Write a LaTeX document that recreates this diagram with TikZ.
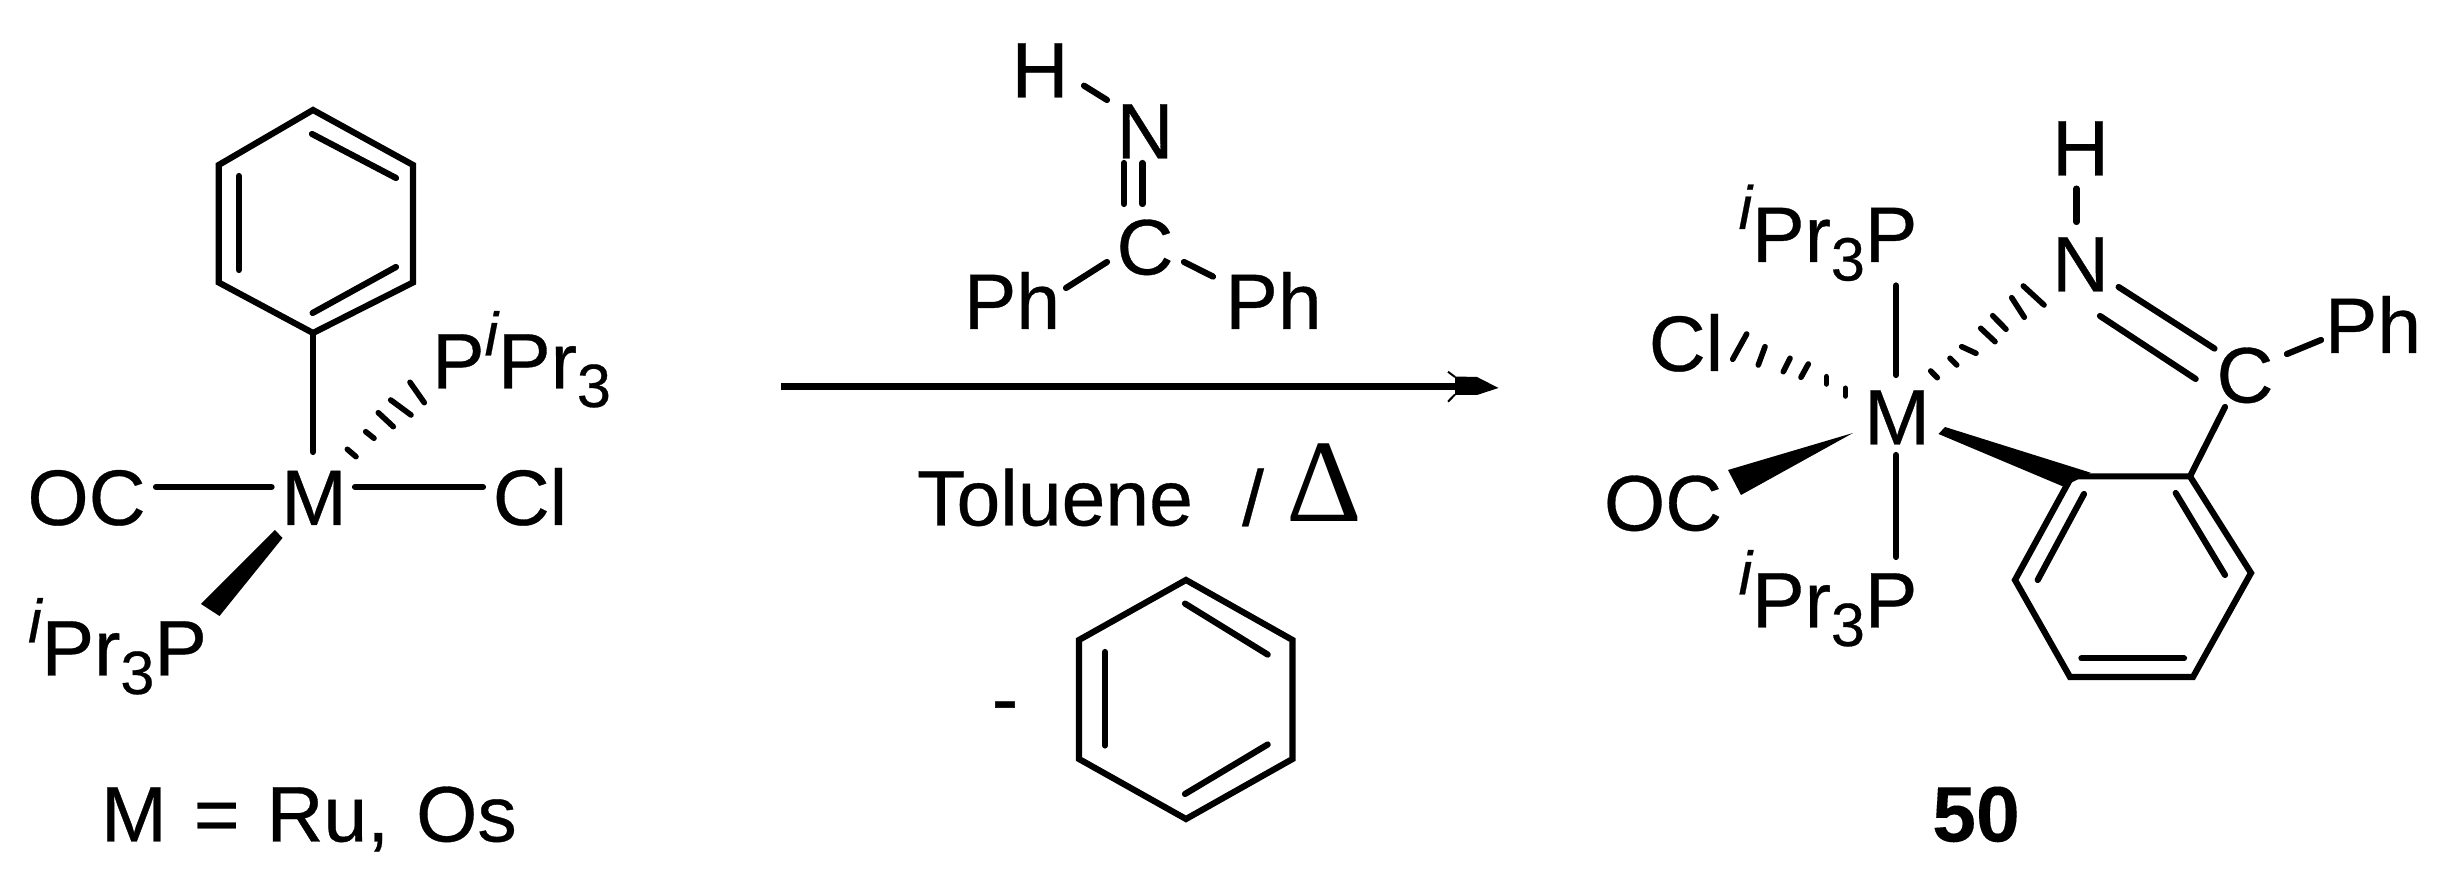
\documentclass[tikz,border=0pt]{standalone}
\usepackage{fontspec}
\setmainfont[FakeBold=0.4,BoldFeatures={FakeBold=0.1}]{Liberation Sans}
\newfontfamily\deltafont{Liberation Serif}
\usepackage{tikz}
\usetikzlibrary{arrows.meta, calc}
\newcommand{\supi}{\raisebox{.42em}{\fontsize{17.4}{20}\selectfont\itshape i}}
\newcommand{\subthree}{\raisebox{-.235em}{\fontsize{17.4}{20}\selectfont 3}}

\begin{document}
\begin{tikzpicture}[
    atom/.style={inner sep=0pt, font=\fontsize{22.4}{26}\selectfont, text height=.55cm, text depth=0pt},
    bond/.style={line width=.062cm, line cap=round, line join=miter},
    hash/.style={line width=.056cm, line cap=round},
    wedge/.style={fill=black, draw=none}
]
\useasboundingbox (0,0) rectangle (24.41,-8.73);

% Starting complex: labels
\node[atom] (mleft) at (3.14,-4.975) {M};
\node[atom] (ocleft) at (0.865,-4.975) {OC};
\node[atom] (clleft) at (5.30,-4.975) {Cl};
\node[atom] (pright) at (5.215,-3.61) {P\supi Pr\subthree};
\node[atom] (pleft) at (1.175,-6.48) {\supi Pr\subthree P};
\node[atom] (metals) at (3.09,-8.14) {M\hspace{.27cm}=\hspace{.27cm}Ru,\hspace{.27cm}Os};

% Starting complex: phenyl ring
\coordinate (pha) at (3.13,-1.10);
\coordinate (phb) at (4.13,-1.65);
\coordinate (phc) at (4.13,-2.825);
\coordinate (phd) at (3.13,-3.33);
\coordinate (phe) at (2.187,-2.825);
\coordinate (phf) at (2.187,-1.65);
\draw[bond] (pha) -- (phb) -- (phc) -- (phd) -- (phe) -- (phf) -- cycle;
\draw[bond] (3.12,-1.34) -- (3.96,-1.78);
\draw[bond] (3.96,-2.67) -- (3.126,-3.13);
\draw[bond] (2.388,-1.76) -- (2.388,-2.70);

% Starting complex: bonds
\coordinate (mtop) at (3.13,-4.52);
\coordinate (oce) at (1.56,-4.87);
\coordinate (mw) at (2.716,-4.87);
\coordinate (me) at (3.55,-4.87);
\coordinate (clw) at (4.83,-4.87);
\draw[bond] (phd) -- (mtop);
\draw[bond] (oce) -- (mw);
\draw[bond] (me) -- (clw);
\foreach \xa/\ya/\xb/\yb in {3.473/4.493/3.56/4.567, 3.657/4.317/3.74/4.383, 3.783/4.127/3.933/4.267, 3.907/4.00/4.11/4.15, 4.10/3.823/4.243/4.027}
    \draw[hash] (\xa,-\ya) -- (\xb,-\yb);
\fill[wedge] (2.75,-5.30) -- (2.825,-5.38) -- (2.195,-6.16) -- (2.01,-6.04) -- cycle;

% Imine over the arrow
\node[atom] (himine) at (10.40,-0.70) {H};
\node[atom] (nimine) at (11.45,-1.31) {N};
\node[atom] (cimine) at (11.45,-2.47) {C};
\node[atom] (phlimine) at (10.12,-3.015) {Ph};
\node[atom] (phrimine) at (12.735,-3.015) {Ph};
\coordinate (hne) at (10.84,-0.857);
\coordinate (nhw) at (11.07,-1.00);
\coordinate (cw) at (11.07,-2.62);
\coordinate (phle) at (10.66,-2.88);
\coordinate (ce) at (11.84,-2.62);
\coordinate (phrw) at (12.13,-2.766);
\draw[bond] (hne) -- (nhw);
\draw[bond] (11.24,-1.63) -- (11.24,-2.04);
\draw[bond] (11.424,-1.63) -- (11.424,-2.04);
\draw[bond] (cw) -- (phle);
\draw[bond] (ce) -- (phrw);

% Reaction arrow
\coordinate (arrowstart) at (7.81,-3.865);
\coordinate (arrowend) at (14.55,-3.865);
\draw[line width=.065cm] (arrowstart) -- (arrowend);
\fill (14.55,-3.765) -- (14.77,-3.77) -- (14.985,-3.88) -- (14.77,-3.95) -- (14.55,-3.95) -- cycle;
\draw[line width=.02cm] (14.48,-3.717) -- (14.55,-3.77);
\draw[line width=.02cm] (14.48,-4.017) -- (14.55,-3.945);

% Below the arrow
\node[atom] (solvent) at (10.55,-4.98) {Toluene};
\node[atom] (slash) at (12.53,-4.98) {/};
\node[inner sep=0pt, font=\deltafont\fontsize{33.5}{36}\selectfont] (heat) at (13.24,-4.83) {Δ};
\node[atom] (minus) at (10.05,-6.98) {-};

% Benzene that leaves
\coordinate (bza) at (11.86,-5.80);
\coordinate (bzb) at (12.925,-6.40);
\coordinate (bzc) at (12.925,-7.59);
\coordinate (bzd) at (11.86,-8.19);
\coordinate (bze) at (10.79,-7.59);
\coordinate (bzf) at (10.79,-6.40);
\draw[bond] (bza) -- (bzb) -- (bzc) -- (bzd) -- (bze) -- (bzf) -- cycle;
\draw[bond] (11.85,-6.036) -- (12.677,-6.546);
\draw[bond] (12.677,-7.445) -- (11.85,-7.94);
\draw[bond] (11.05,-6.52) -- (11.05,-7.455);

% Product: labels
\node[atom] (mprod) at (18.97,-4.17) {M};
\node[atom] (hprod) at (20.805,-1.48) {H};
\node[atom] (nprod) at (20.805,-2.64) {N};
\node[atom] (cprod) at (22.45,-3.75) {C};
\node[atom] (phprod) at (23.73,-3.255) {Ph};
\node[atom] (ptop) at (18.28,-2.345) {\supi Pr\subthree P};
\node[atom] (pbottom) at (18.28,-6.00) {\supi Pr\subthree P};
\node[atom] (clprod) at (16.86,-3.435) {Cl};
\node[atom] (ocprod) at (16.63,-5.03) {OC};
\node[atom] (number) at (19.76,-8.14) {\bfseries 50};

% Product: ring
\coordinate (ara) at (20.717,-4.764);
\coordinate (arb) at (21.90,-4.764);
\coordinate (arc) at (22.51,-5.73);
\coordinate (ard) at (21.93,-6.77);
\coordinate (are) at (20.70,-6.77);
\coordinate (arf) at (20.15,-5.80);
\draw[bond] (ara) -- (arb) -- (arc) -- (ard) -- (are) -- (arf) -- cycle;
\draw[bond] (20.84,-4.94) -- (20.377,-5.80);
\draw[bond] (21.757,-4.93) -- (22.25,-5.75);
\draw[bond] (20.814,-6.584) -- (21.84,-6.584);

% Product: bonds
\coordinate (ptopb) at (18.96,-2.855);
\coordinate (mn) at (18.96,-3.75);
\coordinate (ms) at (18.96,-4.55);
\coordinate (pbott) at (18.96,-5.57);
\coordinate (hs) at (20.765,-1.886);
\coordinate (nn) at (20.765,-2.22);
\coordinate (cs) at (22.25,-4.07);
\coordinate (cphe) at (22.87,-3.54);
\coordinate (phw) at (23.21,-3.40);
\draw[bond] (ptopb) -- (mn);
\draw[bond] (ms) -- (pbott);
\draw[bond] (hs) -- (nn);
\draw[bond] (arb) -- (cs);
\draw[bond] (cphe) -- (phw);
\draw[bond] (21.186,-2.87) -- (22.145,-3.486);
\draw[bond] (21.00,-3.16) -- (21.957,-3.79);
\foreach \xa/\ya/\xb/\yb in {17.467/3.34/17.327/3.593, 17.65/3.467/17.583/3.65, 17.90/3.583/17.833/3.717, 18.083/3.64/18.01/3.773, 18.263/3.767/18.263/3.84, 18.453/3.883/18.453/3.96,
    19.307/3.71/19.373/3.777, 19.50/3.583/19.567/3.65, 19.617/3.467/19.76/3.533, 19.807/3.283/19.95/3.417, 19.927/3.157/20.06/3.293, 20.117/2.977/20.243/3.173, 20.233/2.86/20.44/3.05}
    \draw[hash] (\xa,-\ya) -- (\xb,-\yb);
\fill[wedge] (18.53,-4.33) -- (17.28,-4.70) -- (17.41,-4.95) -- cycle;
\fill[wedge] (19.45,-4.27) -- (19.385,-4.34) -- (20.636,-4.867) -- (20.906,-4.727) -- cycle;

\end{tikzpicture}
\end{document}
